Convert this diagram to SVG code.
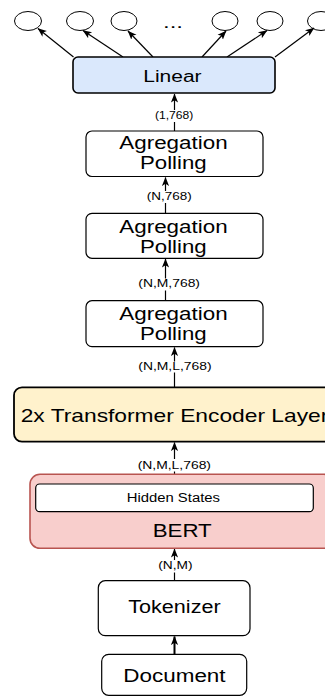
<svg xmlns="http://www.w3.org/2000/svg" width="325" height="698" viewBox="0 0 325 698">
<style>
text{font-family:"Liberation Sans",Arial,sans-serif;fill:#000}
.box{fill:#fff;stroke:#000;stroke-width:1.2}
.lbl{font-size:10px}
.big{font-size:17.5px}
.edge{fill:none;stroke:#000;stroke-width:1.2}
.bg{fill:#fff}
.circ{fill:#fff;stroke:#000;stroke-width:1}
</style>
<defs>
<marker id="ah" viewBox="0 0 10 10" refX="9.5" refY="5" markerWidth="9" markerHeight="9" markerUnits="userSpaceOnUse" orient="auto">
<path d="M0,1 L10,5 L0,9 L2.5,5 z" fill="#000"/>
</marker>
</defs>

<g id="outputs">
<ellipse class="circ" cx="28" cy="21" rx="13.5" ry="9.5"/>
<ellipse class="circ" cx="80" cy="21" rx="13.5" ry="9.5"/>
<ellipse class="circ" cx="124" cy="21" rx="13" ry="9.5"/>
<ellipse class="circ" cx="225" cy="21" rx="13" ry="9.5"/>
<ellipse class="circ" cx="270" cy="21" rx="13" ry="9.5"/>
<ellipse class="circ" cx="321" cy="21" rx="13.5" ry="9.5"/>
<text x="163" y="27.5" font-size="16" textLength="20" lengthAdjust="spacingAndGlyphs">...</text>
</g>

<g id="connectors">
<line class="edge" x1="73.5" y1="57" x2="38" y2="28.5" marker-end="url(#ah)"/>
<line class="edge" x1="123" y1="57" x2="83" y2="30.5" marker-end="url(#ah)"/>
<line class="edge" x1="153" y1="57" x2="128" y2="31" marker-end="url(#ah)"/>
<line class="edge" x1="202" y1="57" x2="226" y2="31" marker-end="url(#ah)"/>
<line class="edge" x1="227" y1="57" x2="267" y2="30.5" marker-end="url(#ah)"/>
<line class="edge" x1="275" y1="57" x2="314" y2="28" marker-end="url(#ah)"/>

<line class="edge" x1="174.5" y1="131" x2="174.5" y2="94" marker-end="url(#ah)"/>
<rect class="bg" x="155" y="110" width="39" height="12"/>
<text class="lbl" x="155" y="118.7" textLength="38.3" lengthAdjust="spacingAndGlyphs">(1,768)</text>

<line class="edge" x1="165.5" y1="213" x2="165.5" y2="177.5" marker-end="url(#ah)"/>
<rect class="bg" x="146" y="191" width="46" height="12"/>
<text class="lbl" x="146.7" y="200" textLength="45" lengthAdjust="spacingAndGlyphs">(N,768)</text>

<line class="edge" x1="165.5" y1="301" x2="165.5" y2="259" marker-end="url(#ah)"/>
<rect class="bg" x="138" y="278.5" width="62.5" height="12"/>
<text class="lbl" x="138.3" y="287" textLength="61.7" lengthAdjust="spacingAndGlyphs">(N,M,768)</text>

<line class="edge" x1="174.5" y1="387" x2="174.5" y2="347.5" marker-end="url(#ah)"/>
<rect class="bg" x="138" y="361.5" width="74" height="11"/>
<text class="lbl" x="138.3" y="370" textLength="73.3" lengthAdjust="spacingAndGlyphs">(N,M,L,768)</text>

<line class="edge" x1="174.5" y1="484" x2="174.5" y2="442.5" marker-end="url(#ah)"/>
<rect class="bg" x="137.5" y="459" width="74" height="12.5"/>
<text class="lbl" x="137.7" y="468.6" textLength="73.3" lengthAdjust="spacingAndGlyphs">(N,M,L,768)</text>

<line class="edge" x1="174.5" y1="580.7" x2="174.5" y2="549" marker-end="url(#ah)"/>
<rect class="bg" x="158" y="560" width="35" height="12.5"/>
<text class="lbl" x="158.3" y="569.3" textLength="34.3" lengthAdjust="spacingAndGlyphs">(N,M)</text>

<line class="edge" style="stroke-width:2" x1="174.5" y1="654" x2="174.5" y2="636.5" marker-end="url(#ah)"/>
</g>

<g id="linear">
<rect x="73" y="57" width="202" height="36" rx="5" fill="#dae8fc" stroke="#000" stroke-width="1.6"/>
<text x="143.3" y="81.5" font-size="16" textLength="58.3" lengthAdjust="spacingAndGlyphs">Linear</text>
</g>

<g id="agg1">
<rect class="box" x="86" y="131" width="177" height="45.5" rx="6"/>
<text class="big" x="119.3" y="149.3" textLength="108.3" lengthAdjust="spacingAndGlyphs">Agregation</text>
<text class="big" x="140" y="169.3" textLength="66.7" lengthAdjust="spacingAndGlyphs">Polling</text>
</g>

<g id="agg2">
<rect class="box" x="86" y="213.3" width="177" height="45" rx="6"/>
<text class="big" x="119.3" y="232.7" textLength="108.3" lengthAdjust="spacingAndGlyphs">Agregation</text>
<text class="big" x="140" y="252.5" textLength="66.7" lengthAdjust="spacingAndGlyphs">Polling</text>
</g>

<g id="agg3">
<rect class="box" x="86" y="300.7" width="177" height="46" rx="6"/>
<text class="big" x="119.3" y="320" textLength="108.3" lengthAdjust="spacingAndGlyphs">Agregation</text>
<text class="big" x="140" y="339.5" textLength="66.7" lengthAdjust="spacingAndGlyphs">Polling</text>
</g>

<g id="transformer">
<rect x="14" y="387.3" width="322" height="54.4" rx="8" fill="#fff2cc" stroke="#000" stroke-width="1.8"/>
<text x="20.7" y="421.7" font-size="18.5" textLength="307.6" lengthAdjust="spacingAndGlyphs">2x Transformer Encoder Layer</text>
</g>

<g id="bert">
<rect x="30" y="474.3" width="304" height="74" rx="10" fill="#f8cecc" stroke="#b85450" stroke-width="1.6"/>
<text x="152.7" y="536.7" font-size="18.5" textLength="59" lengthAdjust="spacingAndGlyphs">BERT</text>
<g id="hidden-states">
<rect class="box" x="35.7" y="484" width="277.6" height="27.7" rx="4"/>
<text x="126.7" y="501.5" font-size="12.5" textLength="93.3" lengthAdjust="spacingAndGlyphs">Hidden States</text>
</g>
</g>

<g id="tokenizer">
<rect class="box" x="98.3" y="580.7" width="151.7" height="55" rx="7"/>
<text class="big" x="128.3" y="613.3" textLength="92.3" lengthAdjust="spacingAndGlyphs">Tokenizer</text>
</g>

<g id="document">
<rect class="box" x="101.7" y="654.3" width="145" height="41" rx="7"/>
<text class="big" x="123.3" y="682.3" textLength="102.3" lengthAdjust="spacingAndGlyphs">Document</text>
</g>
</svg>
